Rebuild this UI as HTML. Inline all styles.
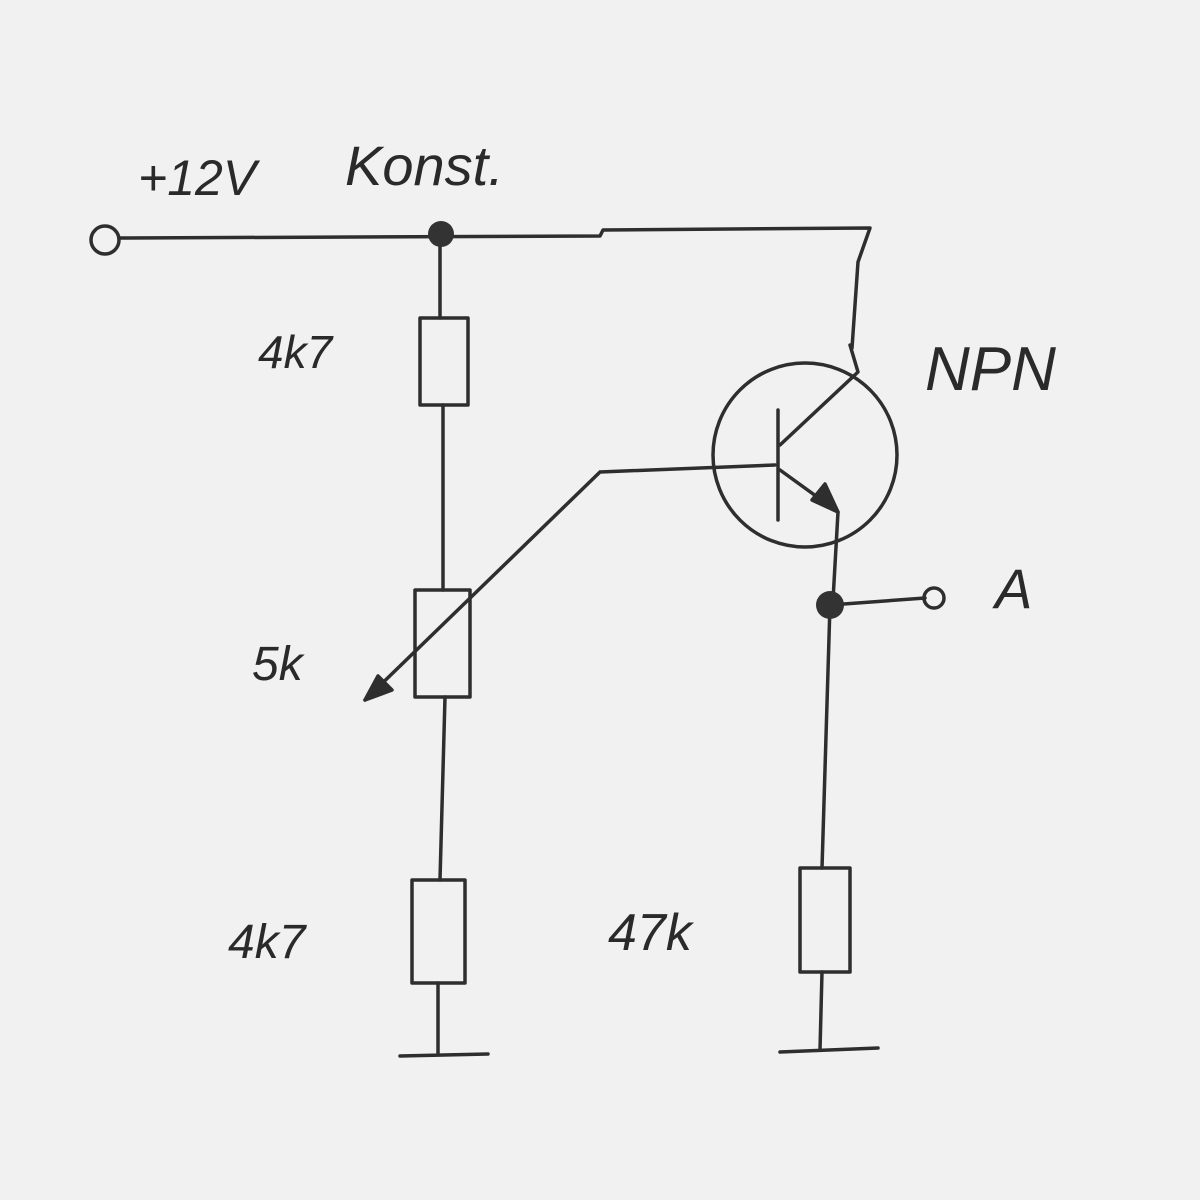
<!DOCTYPE html>
<html><head><style>
html,body{margin:0;padding:0;background:#f1f1f1;}
svg{display:block}
text{font-family:"Liberation Sans",sans-serif;fill:#2a2a2a;font-style:italic}
</style></head><body>
<svg width="1200" height="1200" viewBox="0 0 1200 1200" xmlns="http://www.w3.org/2000/svg">
<rect width="1200" height="1200" fill="#f1f1f1"/>
<g fill="none" stroke="#2e2e2e" stroke-width="3.5" stroke-linecap="round" stroke-linejoin="round">
<circle cx="105" cy="240" r="14"/>
<path d="M119 238 L600 236 L603 230 L870 228 L858 262 L852 348"/>
<path d="M440 240 L440 318"/>
<rect x="420" y="318" width="48" height="87"/>
<path d="M443 405 L443 590"/>
<rect x="415" y="590" width="55" height="107"/>
<path d="M445 697 L440 880"/>
<rect x="412" y="880" width="53" height="103"/>
<path d="M438 983 L438 1055 M400 1056 L488 1054"/>
<path d="M600 472 L365 700 M600 472 L775 465"/>
<path d="M365 700 L392 690 L378 676 Z" fill="#2e2e2e"/>
<circle cx="805" cy="455" r="92"/>
<path d="M778 410 L778 520"/>
<path d="M780 445 L858 372 L850 345"/>
<path d="M780 470 L838 512 L833 600"/>
<path d="M838 512 L812 500 L825 484 Z" fill="#2e2e2e"/>
<path d="M830 605 L925 598"/>
<circle cx="934" cy="598" r="10"/>
<path d="M830 605 L822 868"/>
<rect x="800" y="868" width="50" height="104"/>
<path d="M822 972 L820 1050 M780 1052 L878 1048"/>
</g>
<circle cx="441" cy="234" r="13" fill="#333"/>
<circle cx="830" cy="605" r="14" fill="#333"/>
<text x="138" y="195" font-size="50">+12V</text>
<text x="345" y="185" font-size="56">Konst.</text>
<text x="258" y="368" font-size="46">4k7</text>
<text x="252" y="680" font-size="48">5k</text>
<text x="228" y="958" font-size="48">4k7</text>
<text x="608" y="950" font-size="52">47k</text>
<text x="925" y="390" font-size="62">NPN</text>
<text x="995" y="608" font-size="56">A</text>
</svg>
</body></html>
